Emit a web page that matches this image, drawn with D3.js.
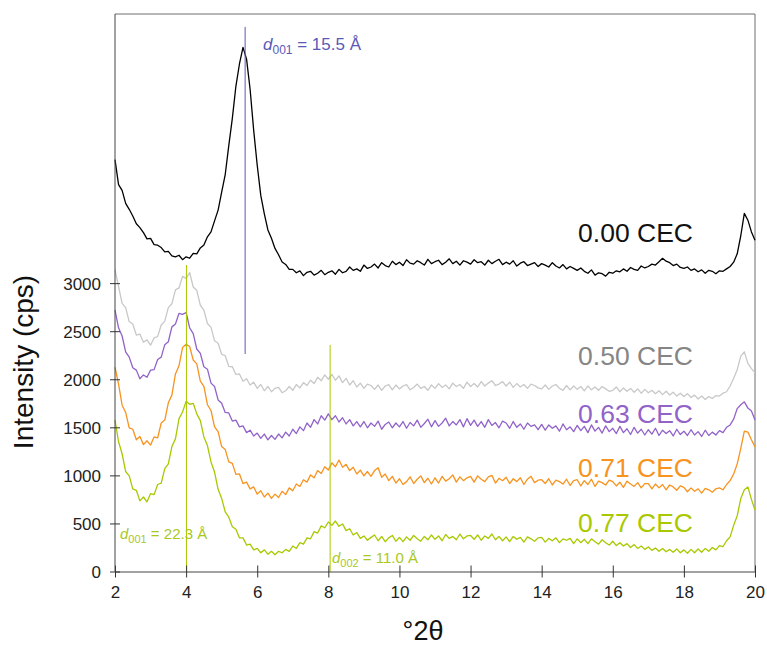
<!DOCTYPE html>
<html>
<head>
<meta charset="utf-8">
<script src="https://cdn.jsdelivr.net/npm/d3@7"></script>
<style>
  html, body { margin: 0; padding: 0; background: #fff; }
  svg { display: block; font-family: "Liberation Sans", Arial, Helvetica, sans-serif; }
</style>
</head>
<body>
<svg id="chart" width="767" height="646"></svg>
<script>
// Scan positions, °2θ (0.1° step)
const twoTheta = d3.range(181).map(i => +(2 + i * 0.1).toFixed(1));

// Intensity (cps), offset traces, one value per scan position
const cec000 = [
  4285, 4025, 3965, 3830, 3768, 3698, 3618, 3578, 3525, 3460,
  3465, 3400, 3395, 3370, 3325, 3330, 3284, 3274, 3290, 3244,
  3274, 3259, 3310, 3305, 3366, 3396, 3482, 3533, 3648, 3760,
  3948, 4130, 4430, 4714, 5048, 5280, 5453, 5331, 5017, 4592,
  4226, 3913, 3721, 3554, 3467, 3361, 3295, 3220, 3194, 3143,
  3143, 3108, 3128, 3078, 3113, 3123, 3083, 3103, 3133, 3088,
  3113, 3128, 3093, 3143, 3108, 3123, 3168, 3133, 3148, 3123,
  3188, 3153, 3168, 3198, 3158, 3213, 3183, 3168, 3228, 3193,
  3218, 3183, 3243, 3208, 3198, 3233, 3213, 3188, 3248, 3203,
  3223, 3238, 3193, 3218, 3253, 3203, 3228, 3188, 3233, 3218,
  3198, 3243, 3213, 3223, 3188, 3238, 3203, 3228, 3248, 3193,
  3218, 3198, 3233, 3178, 3208, 3223, 3183, 3198, 3213, 3173,
  3203, 3188, 3168, 3213, 3178, 3158, 3193, 3148, 3173, 3153,
  3133, 3158, 3123, 3103, 3138, 3083, 3108, 3098, 3073, 3113,
  3103, 3128, 3118, 3148, 3123, 3163, 3143, 3133, 3178, 3158,
  3173, 3198, 3188, 3223, 3258, 3228, 3213, 3183, 3198, 3163,
  3153, 3168, 3133, 3148, 3118, 3138, 3103, 3133, 3123, 3098,
  3128, 3123, 3148, 3173, 3218, 3305, 3493, 3726, 3655, 3533, 3447
];
const cec050 = [
  3140, 2965, 2790, 2745, 2600, 2575, 2460, 2470, 2385, 2410,
  2355, 2430, 2445, 2565, 2605, 2745, 2785, 2930, 2950, 3070,
  3050, 3110, 2960, 2925, 2770, 2720, 2580, 2540, 2400, 2375,
  2260, 2245, 2135, 2130, 2050, 2055, 1980, 2005, 1940, 1970,
  1905, 1945, 1880, 1925, 1870, 1905, 1915, 1860, 1880, 1925,
  1885, 1945, 1910, 1965, 1935, 1990, 1955, 2020, 1985, 2045,
  2000, 2050, 1990, 2035, 1965, 2010, 1940, 1985, 1920, 1960,
  1905, 1950, 1935, 1895, 1940, 1885, 1930, 1945, 1890, 1940,
  1900, 1930, 1945, 1890, 1915, 1950, 1905, 1925, 1885, 1940,
  1905, 1955, 1915, 1940, 1900, 1960, 1925, 1945, 1905, 1970,
  1925, 1955, 1920, 1975, 1930, 1960, 1985, 1935, 1950, 1975,
  1930, 1970, 1915, 1955, 1920, 1945, 1905, 1950, 1935, 1910,
  1900, 1940, 1895, 1930, 1945, 1905, 1885, 1935, 1890, 1930,
  1895, 1925, 1880, 1930, 1890, 1920, 1885, 1925, 1900, 1875,
  1885, 1920, 1870, 1910, 1875, 1905, 1865, 1900, 1855, 1895,
  1860, 1885, 1850, 1880, 1840, 1875, 1835, 1865, 1825, 1855,
  1820, 1850, 1810, 1835, 1795, 1825, 1790, 1820, 1800, 1830,
  1825, 1855, 1870, 1930, 2010, 2100, 2240, 2285, 2165, 2110, 2066
];
const cec063 = [
  2720, 2535, 2450, 2285, 2230, 2120, 2095, 2005, 2045, 2020,
  2095, 2100, 2205, 2230, 2360, 2390, 2545, 2575, 2685, 2675,
  2695, 2535, 2475, 2315, 2270, 2130, 2105, 1960, 1925, 1785,
  1750, 1655, 1650, 1565, 1575, 1505, 1515, 1445, 1470, 1410,
  1440, 1385, 1430, 1370, 1415, 1375, 1430, 1390, 1450, 1410,
  1480, 1435, 1505, 1465, 1545, 1500, 1580, 1535, 1620, 1575,
  1640, 1580, 1620, 1555, 1600, 1535, 1580, 1515, 1560, 1505,
  1560, 1495, 1545, 1510, 1565, 1480, 1530, 1555, 1495, 1545,
  1505, 1560, 1490, 1550, 1515, 1575, 1500, 1540, 1585, 1505,
  1570, 1510, 1545, 1595, 1515, 1560, 1525, 1580, 1505, 1590,
  1520, 1575, 1510, 1560, 1500, 1580, 1520, 1550, 1495, 1565,
  1545, 1490, 1560, 1500, 1535, 1480, 1545, 1510, 1525, 1475,
  1530, 1470, 1525, 1490, 1515, 1460, 1535, 1475, 1505, 1455,
  1520, 1465, 1510, 1445, 1525, 1460, 1500, 1440, 1515, 1455,
  1490, 1435, 1510, 1445, 1485, 1425, 1500, 1440, 1480, 1420,
  1475, 1430, 1490, 1415, 1470, 1435, 1465, 1410, 1480, 1425,
  1460, 1415, 1475, 1420, 1455, 1405, 1470, 1415, 1450, 1420,
  1465, 1445, 1500, 1525, 1585, 1695, 1735, 1765, 1700, 1670, 1576
];
const cec071 = [
  2125, 1950, 1730, 1655, 1495, 1480, 1370, 1405, 1320, 1360,
  1315, 1400, 1390, 1545, 1575, 1755, 1835, 2055, 2140, 2330,
  2365, 2340, 2200, 2160, 1980, 1925, 1735, 1675, 1505, 1455,
  1300, 1270, 1140, 1125, 1010, 1015, 915, 930, 860, 880,
  805, 840, 775, 815, 760, 805, 770, 835, 800, 870,
  840, 910, 885, 955, 930, 1005, 975, 1050, 1020, 1090,
  1055, 1130, 1090, 1160, 1085, 1115, 1050, 1085, 1015, 1055,
  995, 1040, 990, 1050, 1080, 980, 1015, 945, 990, 920,
  965, 905, 935, 985, 915, 960, 995, 925, 970, 910,
  975, 920, 990, 940, 965, 1005, 930, 985, 945, 975,
  990, 930, 995, 960, 935, 985, 1000, 920, 970, 945,
  980, 915, 965, 935, 975, 905, 960, 990, 925, 950,
  955, 915, 965, 900, 950, 935, 910, 960, 895, 945,
  955, 890, 945, 905, 960, 885, 940, 925, 900, 950,
  935, 890, 930, 875, 940, 910, 885, 925, 870, 915,
  915, 860, 910, 870, 905, 850, 900, 880, 845, 890,
  875, 830, 870, 835, 860, 815, 865, 850, 825, 860,
  870, 850, 905, 945, 1015, 1120, 1280, 1460, 1450, 1370, 1296
];
const cec077 = [
  1575, 1350, 1225, 1040, 995, 860, 845, 735, 775, 725,
  810, 800, 905, 920, 1070, 1120, 1300, 1380, 1590, 1660,
  1770, 1740, 1750, 1640, 1570, 1400, 1310, 1140, 1035, 855,
  760, 620, 565, 465, 440, 350, 350, 275, 285, 225,
  240, 195, 225, 180, 210, 175, 210, 195, 230, 210,
  265, 240, 300, 285, 350, 340, 415, 400, 475, 455,
  515, 480, 525, 470, 495, 425, 445, 380, 405, 345,
  370, 325, 355, 380, 320, 365, 310, 350, 375, 315,
  355, 310, 360, 325, 375, 340, 315, 365, 330, 380,
  335, 370, 320, 385, 345, 365, 330, 390, 340, 370,
  375, 335, 380, 325, 370, 345, 390, 330, 365, 320,
  360, 310, 365, 335, 355, 305, 360, 340, 315, 350,
  355, 305, 345, 320, 350, 300, 340, 325, 345, 290,
  340, 300, 335, 290, 340, 310, 285, 330, 300, 275,
  315, 270, 300, 265, 290, 250, 280, 240, 265, 230,
  255, 220, 245, 210, 240, 205, 230, 200, 235, 195,
  225, 190, 230, 195, 235, 200, 240, 210, 250, 225,
  270, 260, 320, 360, 480, 580, 760, 850, 880, 750, 640
];

const seriesNames = ["0.00 CEC", "0.50 CEC", "0.63 CEC", "0.71 CEC", "0.77 CEC"];
const seriesValues = [cec000, cec050, cec063, cec071, cec077];

// Reflection markers: position (°2θ), vertical extent (cps) and d-spacing text
const peakPos = [5.66, 4.01, 8.05];
const peakTop = [5666, 3189, 2357];
const peakBottom = [2263, 0, 0];
const peakIndex = ["001", "001", "002"];
const peakSpacing = ["15.5 Å", "22.3 Å", "11.0 Å"];

const xTicks = [2, 4, 6, 8, 10, 12, 14, 16, 18, 20];
const yTicks = [0, 500, 1000, 1500, 2000, 2500, 3000];

// ---- styling / layout ----
const lineColors = ["#000000", "#c8c8c8", "#9163c9", "#f7931e", "#a9c800"];
const labelColors = ["#111111", "#858585", "#9163c9", "#f7931e", "#a9c800"];
const labelBaseline = [242, 365, 423, 477, 532];
const markColors = ["#5a5ab6", "#a9c800", "#a9c800"];
const markTextColors = ["#5a5ab6", "#a9c81e", "#a9c81e"];
const markTextPos = [[263, 50], [120, 539], [332, 563]];
const markFont = [17, 15, 15];

const svg = d3.select("#chart");
const plotL = 115, plotR = 755, plotT = 14, plotB = 571.5;

const x = d3.scaleLinear().domain([2, 20]).range([plotL, plotR]);
const y = d3.scaleLinear().domain([0, 5800]).range([plotB, plotT]);

// frame (top and right)
svg.append("path")
  .attr("d", `M${plotL},${plotT}H${plotR}V${plotB}`)
  .attr("fill", "none").attr("stroke", "#6e6e6e").attr("stroke-width", 1);

// traces
const line = d3.line().x(d => x(d[0])).y(d => y(d[1]));
seriesValues.forEach((vals, i) => {
  svg.append("path")
    .datum(twoTheta.map((t, k) => [t, vals[k]]))
    .attr("fill", "none")
    .attr("stroke", lineColors[i])
    .attr("stroke-width", 1.3)
    .attr("stroke-linejoin", "round")
    .attr("d", line);
});

// reflection markers
peakPos.forEach((p, i) => {
  svg.append("line")
    .attr("x1", x(p)).attr("x2", x(p))
    .attr("y1", y(peakTop[i])).attr("y2", y(peakBottom[i]))
    .attr("stroke", markColors[i]).attr("stroke-width", 1);
  const t = svg.append("text")
    .attr("x", markTextPos[i][0]).attr("y", markTextPos[i][1])
    .attr("fill", markTextColors[i])
    .attr("font-size", markFont[i]);
  t.append("tspan").attr("font-style", "italic").text("d");
  t.append("tspan").attr("font-size", Math.round(markFont[i] * 0.72)).attr("dy", 4).text(peakIndex[i]);
  t.append("tspan").attr("dy", -4).text(" = " + peakSpacing[i]);
});

// series labels
seriesNames.forEach((n, i) => {
  svg.append("text")
    .attr("x", 693).attr("y", labelBaseline[i])
    .attr("text-anchor", "end")
    .attr("font-size", 26.5)
    .attr("fill", labelColors[i])
    .text(n);
});

// axes
const xAxis = svg.append("g")
  .attr("transform", `translate(0,${plotB})`)
  .call(d3.axisBottom(x).tickValues(xTicks).tickFormat(d3.format("d")).tickSizeOuter(0));
xAxis.select(".domain").attr("stroke", "#444");
xAxis.selectAll(".tick line").attr("y1", -6).attr("y2", 6).attr("stroke", "#333");
xAxis.selectAll(".tick text").attr("y", 14).attr("dy", "0.71em")
  .attr("font-size", 17).attr("fill", "#222").attr("font-family", "Liberation Sans, Arial, sans-serif");

const yAxis = svg.append("g")
  .attr("transform", `translate(${plotL},0)`)
  .call(d3.axisLeft(y).tickValues(yTicks).tickFormat(d3.format("d")).tickSizeOuter(0));
yAxis.select(".domain").attr("d", `M0,${plotB}V${plotT}`).attr("stroke", "#444");
yAxis.selectAll(".tick line").attr("x1", -5).attr("x2", 5).attr("stroke", "#333");
yAxis.selectAll(".tick text").attr("x", -14).attr("dy", "0.36em")
  .attr("font-size", 17).attr("fill", "#222").attr("font-family", "Liberation Sans, Arial, sans-serif");

// axis titles
svg.append("text")
  .attr("x", 423).attr("y", 640)
  .attr("text-anchor", "middle").attr("font-size", 27).attr("fill", "#111")
  .text("°2θ");
svg.append("text")
  .attr("transform", "translate(33,362) rotate(-90)")
  .attr("text-anchor", "middle").attr("font-size", 28).attr("fill", "#111")
  .text("Intensity (cps)");
</script>
</body>
</html>
